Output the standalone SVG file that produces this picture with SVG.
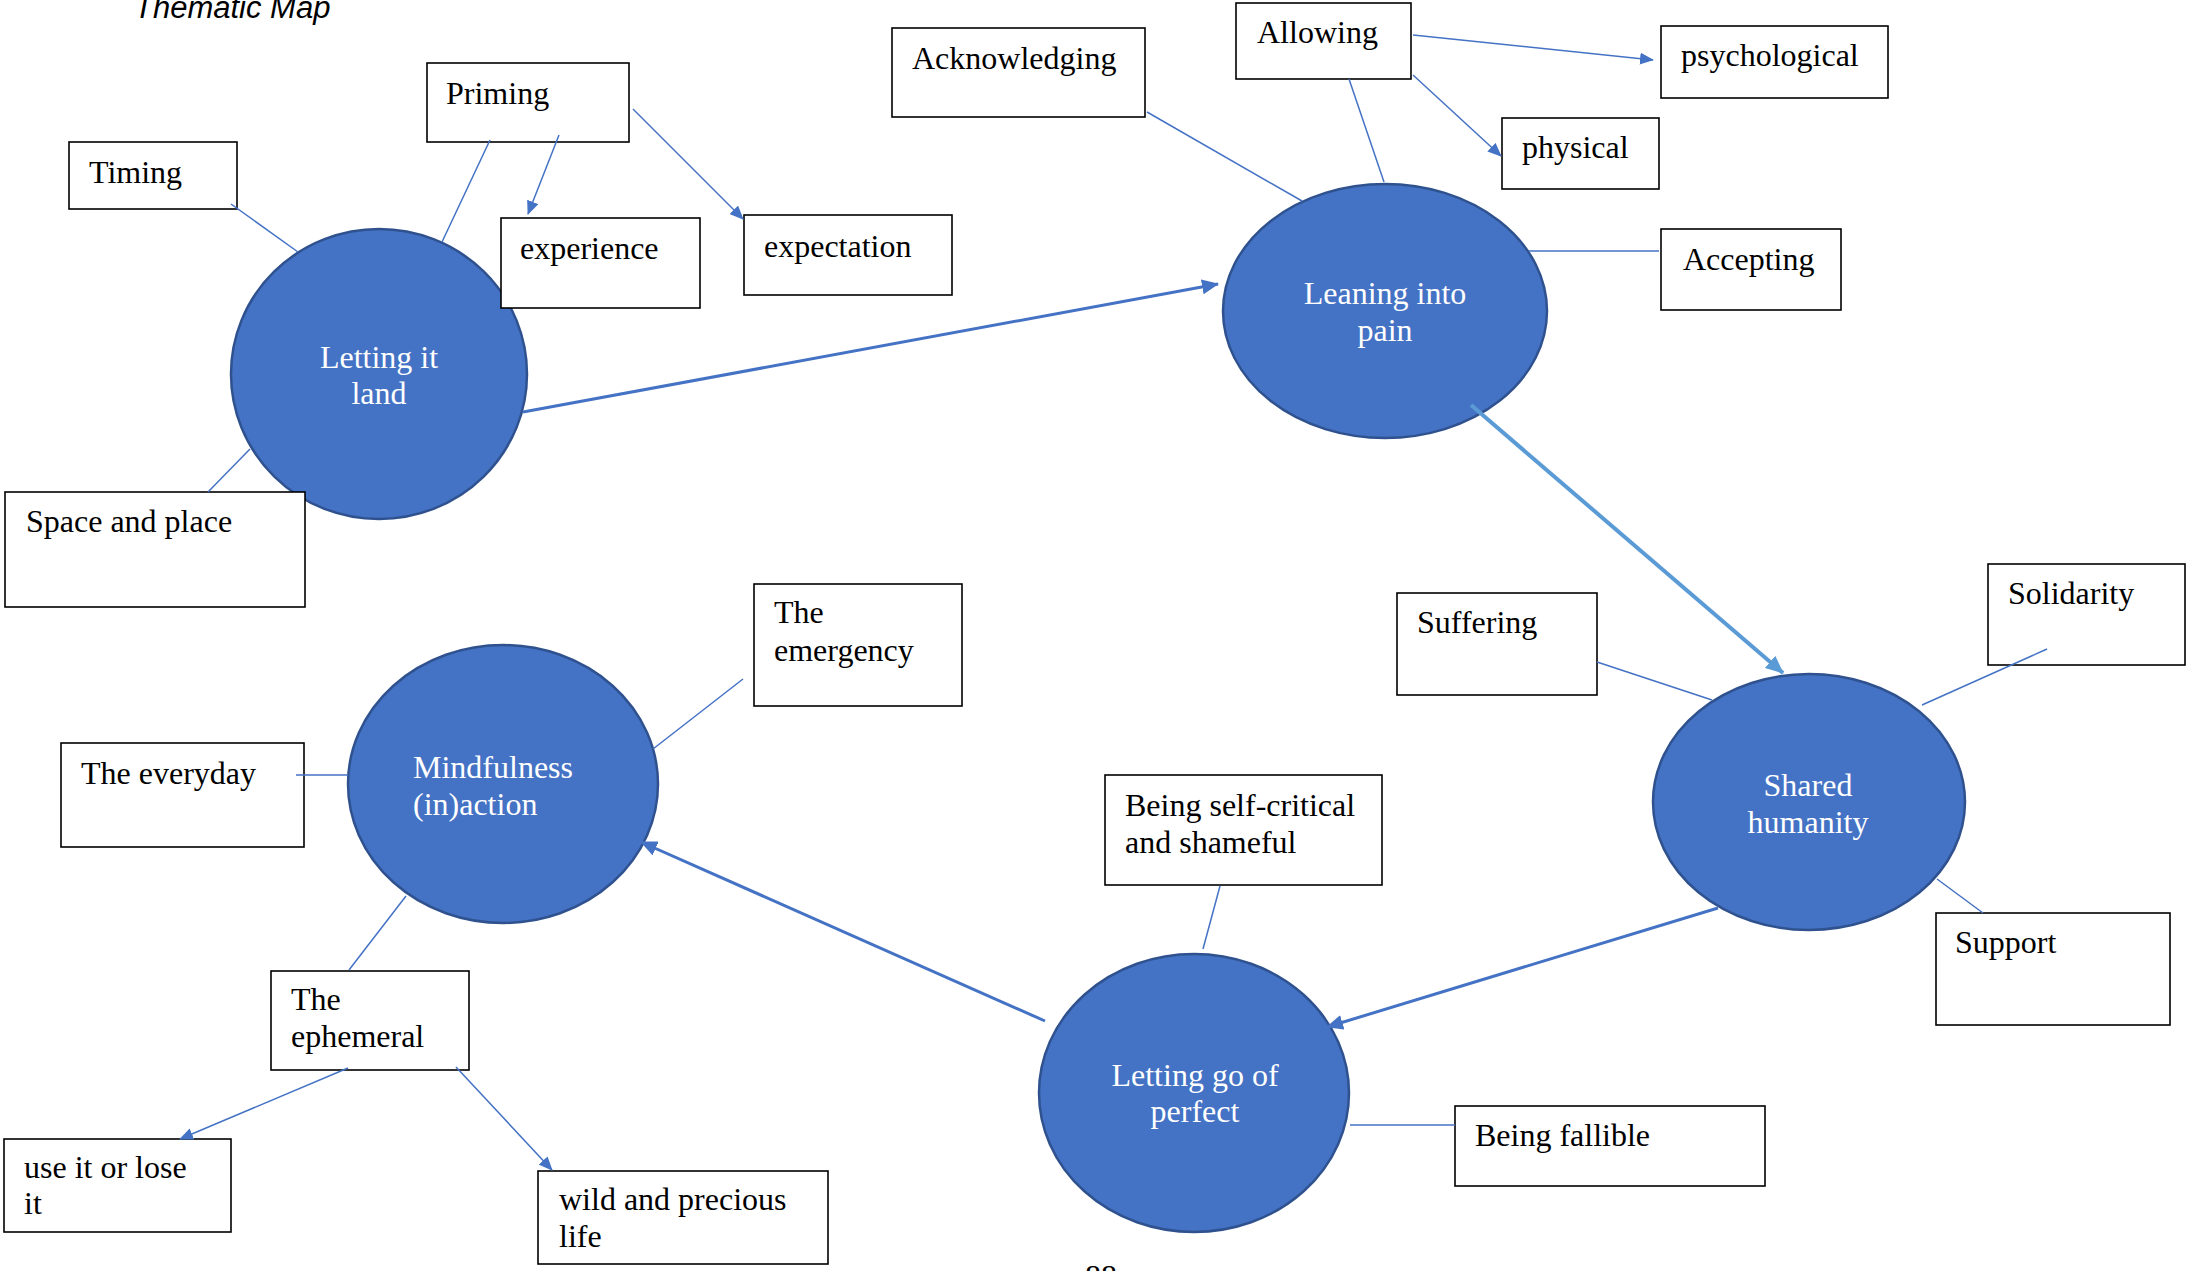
<svg xmlns="http://www.w3.org/2000/svg" width="2187" height="1271" viewBox="0 0 2187 1271">
<style>
.bg{fill:#ffffff}
.node ellipse{fill:#4472C4;stroke:#2F528F;stroke-width:2.5}
.box rect{fill:#ffffff;stroke:#000000;stroke-width:1.6}
.t{font-family:"Liberation Serif","Times New Roman",serif;font-size:32px;fill:#000000}
.nt{font-family:"Liberation Serif","Times New Roman",serif;font-size:32px;fill:#ffffff}
.title{font-family:"Liberation Sans",Arial,sans-serif;font-size:31px;font-style:italic;fill:#000000}
.thin{stroke:#4472C4;stroke-width:1.5;fill:none}
.thick{stroke:#4472C4;stroke-width:3;fill:none}
.light{stroke:#5B9BD5;stroke-width:4;fill:none}
</style>
<defs>
<marker id="ah" markerUnits="userSpaceOnUse" markerWidth="14" markerHeight="12" refX="13" refY="6" orient="auto" viewBox="0 0 14 12">
<path d="M0,0 L14,6 L0,12 z" fill="#4472C4"/>
</marker>
<marker id="ahb" markerUnits="userSpaceOnUse" markerWidth="17" markerHeight="15" refX="16" refY="7.5" orient="auto" viewBox="0 0 17 15">
<path d="M0,0 L17,7.5 L0,15 z" fill="#4472C4"/>
</marker>
<marker id="ahl" markerUnits="userSpaceOnUse" markerWidth="18" markerHeight="16" refX="17" refY="8" orient="auto" viewBox="0 0 18 16">
<path d="M0,0 L18,8 L0,16 z" fill="#5B9BD5"/>
</marker>
</defs>
<rect class="bg" x="0" y="0" width="2187" height="1271"/>
<text class="title" x="134" y="18">Thematic Map</text>
<text class="t" x="1085" y="1287" font-size="28">88</text>

<g id="node-letting-it-land" class="node">
<ellipse cx="379" cy="374" rx="148" ry="145"/>
<text class="nt" text-anchor="middle" x="379" y="368">Letting it</text>
<text class="nt" text-anchor="middle" x="379" y="404">land</text>
</g>
<g id="node-leaning-into-pain" class="node">
<ellipse cx="1385" cy="311" rx="162" ry="127"/>
<text class="nt" text-anchor="middle" x="1385" y="304">Leaning into</text>
<text class="nt" text-anchor="middle" x="1385" y="341">pain</text>
</g>
<g id="node-shared-humanity" class="node">
<ellipse cx="1809" cy="802" rx="156" ry="128"/>
<text class="nt" text-anchor="middle" x="1808" y="796">Shared</text>
<text class="nt" text-anchor="middle" x="1808" y="833">humanity</text>
</g>
<g id="node-letting-go-of-perfect" class="node">
<ellipse cx="1194" cy="1093" rx="155" ry="139"/>
<text class="nt" text-anchor="middle" x="1195" y="1086">Letting go of</text>
<text class="nt" text-anchor="middle" x="1195" y="1122">perfect</text>
</g>
<g id="node-mindfulness" class="node">
<ellipse cx="503" cy="784" rx="155" ry="139"/>
<text class="nt" x="413" y="778">Mindfulness</text>
<text class="nt" x="413" y="815">(in)action</text>
</g>

<g id="box-timing" class="box"><rect x="69" y="142" width="168" height="67"/><text class="t" x="89" y="183">Timing</text></g>
<g id="box-priming" class="box"><rect x="427" y="63" width="202" height="79"/><text class="t" x="446" y="104">Priming</text></g>
<g id="box-experience" class="box"><rect x="501" y="218" width="199" height="90"/><text class="t" x="520" y="259">experience</text></g>
<g id="box-expectation" class="box"><rect x="744" y="215" width="208" height="80"/><text class="t" x="764" y="257">expectation</text></g>
<g id="box-space-and-place" class="box"><rect x="5" y="492" width="300" height="115"/><text class="t" x="26" y="532">Space and place</text></g>
<g id="box-acknowledging" class="box"><rect x="892" y="28" width="253" height="89"/><text class="t" x="912" y="69">Acknowledging</text></g>
<g id="box-allowing" class="box"><rect x="1236" y="3" width="175" height="76"/><text class="t" x="1257" y="43">Allowing</text></g>
<g id="box-psychological" class="box"><rect x="1661" y="26" width="227" height="72"/><text class="t" x="1681" y="66">psychological</text></g>
<g id="box-physical" class="box"><rect x="1502" y="118" width="157" height="71"/><text class="t" x="1522" y="158">physical</text></g>
<g id="box-accepting" class="box"><rect x="1661" y="229" width="180" height="81"/><text class="t" x="1683" y="270">Accepting</text></g>
<g id="box-suffering" class="box"><rect x="1397" y="593" width="200" height="102"/><text class="t" x="1417" y="633">Suffering</text></g>
<g id="box-solidarity" class="box"><rect x="1988" y="564" width="197" height="101"/><text class="t" x="2008" y="604">Solidarity</text></g>
<g id="box-support" class="box"><rect x="1936" y="913" width="234" height="112"/><text class="t" x="1955" y="953">Support</text></g>
<g id="box-self-critical" class="box"><rect x="1105" y="775" width="277" height="110"/><text class="t" x="1125" y="816">Being self-critical</text><text class="t" x="1125" y="853">and shameful</text></g>
<g id="box-fallible" class="box"><rect x="1455" y="1106" width="310" height="80"/><text class="t" x="1475" y="1146">Being fallible</text></g>
<g id="box-emergency" class="box"><rect x="754" y="584" width="208" height="122"/><text class="t" x="774" y="623">The</text><text class="t" x="774" y="661">emergency</text></g>
<g id="box-everyday" class="box"><rect x="61" y="743" width="243" height="104"/><text class="t" x="81" y="784">The everyday</text></g>
<g id="box-ephemeral" class="box"><rect x="271" y="971" width="198" height="99"/><text class="t" x="291" y="1010">The</text><text class="t" x="291" y="1047">ephemeral</text></g>
<g id="box-use-it" class="box"><rect x="4" y="1139" width="227" height="93"/><text class="t" x="24" y="1178">use it or lose</text><text class="t" x="24" y="1214">it</text></g>
<g id="box-wild" class="box"><rect x="538" y="1171" width="290" height="93"/><text class="t" x="559" y="1210">wild and precious</text><text class="t" x="559" y="1247">life</text></g>

<g id="connectors">
<line class="thin" x1="231" y1="204" x2="298" y2="252"/>
<line class="thin" x1="490" y1="140" x2="442" y2="242"/>
<line class="thin" x1="559" y1="135" x2="528" y2="214" marker-end="url(#ah)"/>
<line class="thin" x1="633" y1="109" x2="743" y2="219" marker-end="url(#ah)"/>
<line class="thin" x1="250" y1="449" x2="208" y2="492"/>
<line class="thin" x1="1147" y1="112" x2="1302" y2="201"/>
<line class="thin" x1="1349" y1="79" x2="1384" y2="182"/>
<line class="thin" x1="1413" y1="35" x2="1653" y2="60" marker-end="url(#ah)"/>
<line class="thin" x1="1413" y1="75" x2="1501" y2="156" marker-end="url(#ah)"/>
<line class="thin" x1="1529" y1="251" x2="1659" y2="251"/>
<line class="thin" x1="1597" y1="662" x2="1712" y2="700"/>
<line class="thin" x1="2047" y1="649" x2="1922" y2="705"/>
<line class="thin" x1="1937" y1="879" x2="1983" y2="913"/>
<line class="thin" x1="1220" y1="886" x2="1203" y2="949"/>
<line class="thin" x1="1350" y1="1125" x2="1455" y2="1125"/>
<line class="thin" x1="743" y1="679" x2="653" y2="749"/>
<line class="thin" x1="296" y1="775" x2="348" y2="775"/>
<line class="thin" x1="406" y1="896" x2="349" y2="970"/>
<line class="thin" x1="348" y1="1068" x2="180" y2="1139" marker-end="url(#ah)"/>
<line class="thin" x1="456" y1="1067" x2="552" y2="1170" marker-end="url(#ah)"/>
<line class="thick" x1="523" y1="412" x2="1218" y2="284" marker-end="url(#ahb)"/>
<line class="thick" x1="1718" y1="908" x2="1327" y2="1027" marker-end="url(#ahb)"/>
<line class="thick" x1="1045" y1="1021" x2="641" y2="842" marker-end="url(#ahb)"/>
<line class="light" x1="1471" y1="405" x2="1783" y2="673" marker-end="url(#ahl)"/>
</g>
</svg>
